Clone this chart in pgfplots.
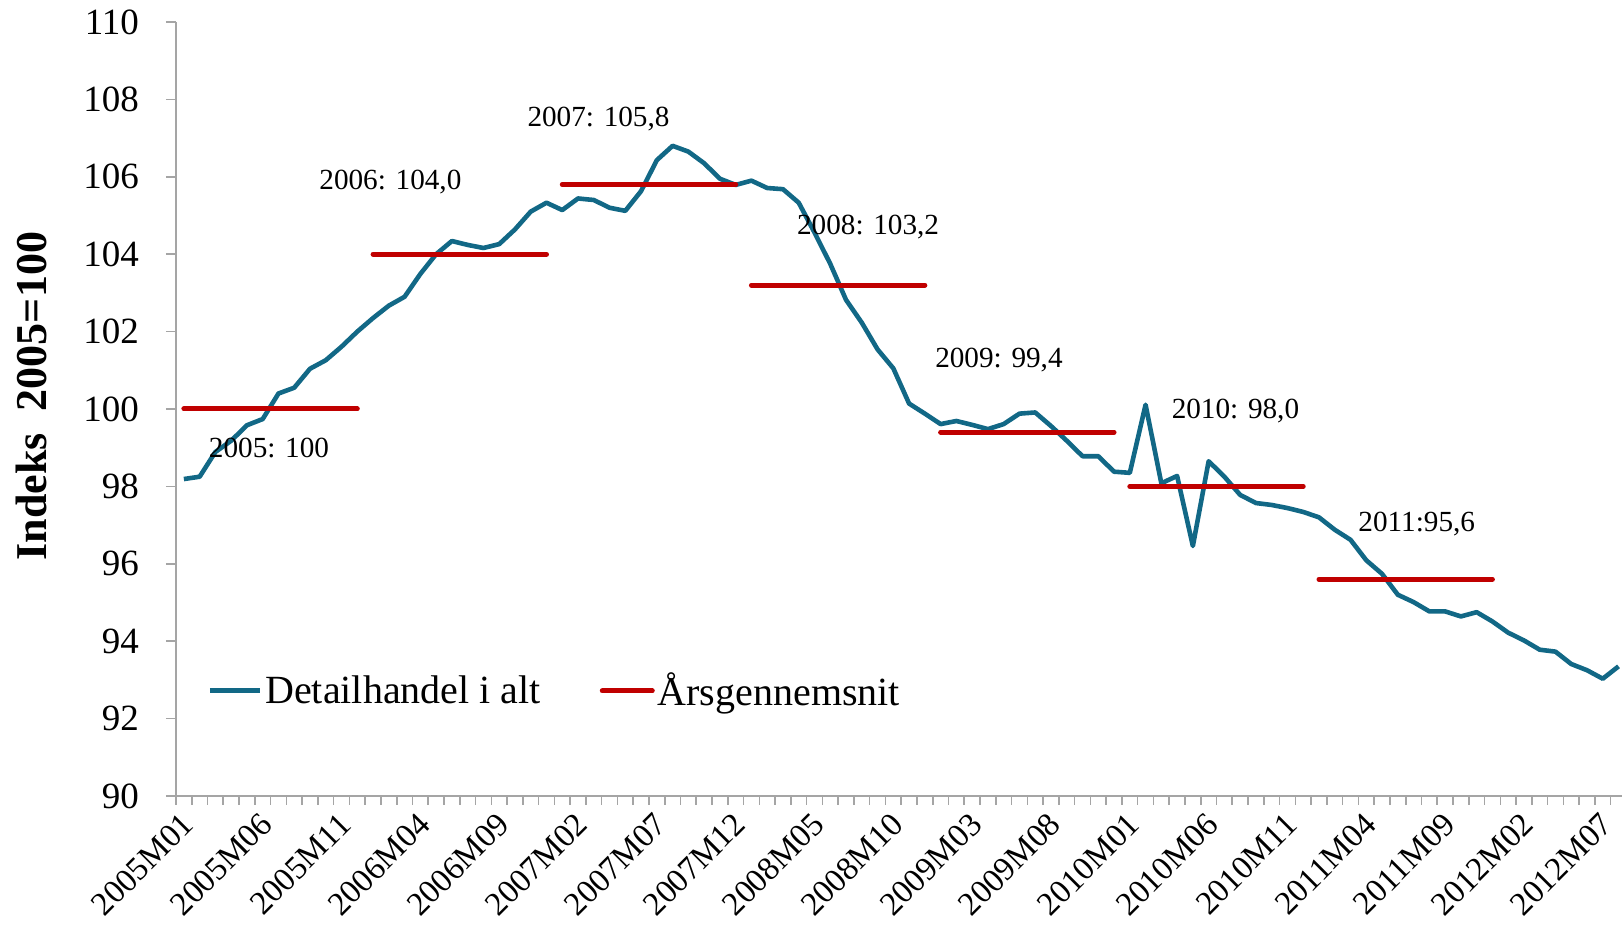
\documentclass[border=0pt]{standalone}
\usepackage{fontspec}
\setmainfont{Liberation Serif}
\usepackage{pgfplots}
\pgfplotsset{compat=1.18}
\definecolor{blueline}{RGB}{18,104,134}
\definecolor{redline}{RGB}{192,0,0}
\definecolor{axisgray}{RGB}{165,165,165}
\begin{document}
\begin{tikzpicture}[x=1pt,y=1pt]
\useasboundingbox (-88,-70) rectangle (723,398);
\begin{axis}[
  at={(0,0)}, anchor=south west,
  scale only axis, width=723pt, height=387pt,
  xmin=-0.5, xmax=91.22, ymin=90, ymax=110,
  axis x line*=bottom, axis y line*=left,
  axis line style={axisgray, line width=0.8pt},
  tick align=outside,
  tick style={axisgray, line width=0.8pt},
  major tick length=5pt, minor tick length=4.5pt,
  ytick={90,92,...,110},
  xtick={0,5,...,90},
  minor xtick={-0.5,0.5,...,91.5},
  every major x tick/.append style={draw opacity=0},
  xticklabels={2005M01,2005M06,2005M11,2006M04,2006M09,2007M02,2007M07,2007M12,2008M05,2008M10,2009M03,2009M08,2010M01,2010M06,2010M11,2011M04,2011M09,2012M02,2012M07},
  /pgf/number format/assume math mode=true,
  yticklabel style={font=\fontsize{18.5}{22}\selectfont, anchor=east, xshift=-10pt},
  xticklabel style={font=\fontsize{16.5}{20}\selectfont, rotate=45, anchor=east, yshift=-6pt, xshift=-2pt, inner sep=1pt},
  ylabel={Indeks\ \ 2005=100},
  every axis y label/.style={at={(axis description cs:0,0.5)}, xshift=-72.5pt, yshift=6.5pt, rotate=90, anchor=center, font=\bfseries\fontsize{22}{26}\selectfont},
  legend style={at={(axis description cs:0.0214,0.1357)}, anchor=west, draw=none, fill=none, inner sep=0pt, legend columns=2, font=\fontsize{20}{24}\selectfont, nodes={inner sep=1.5pt}, /tikz/every even column/.append style={column sep=28pt}},
  legend cell align=left,
  legend image code/.code={\draw[#1, line width=2.5pt] (0pt,0pt) -- (25pt,0pt);},
]
\addplot[blueline, line width=2.3pt, line join=round] table[row sep=\\] {
k v\\
0 98.19\\ 1 98.25\\ 2 98.89\\ 3 99.18\\ 4 99.58\\ 5 99.74\\ 6 100.40\\ 7 100.55\\ 8 101.04\\ 9 101.26\\
10 101.61\\ 11 102.00\\ 12 102.35\\ 13 102.67\\ 14 102.90\\ 15 103.49\\ 16 104.00\\ 17 104.34\\ 18 104.24\\ 19 104.16\\
20 104.26\\ 21 104.64\\ 22 105.10\\ 23 105.33\\ 24 105.14\\ 25 105.44\\ 26 105.40\\ 27 105.20\\ 28 105.12\\ 29 105.63\\
30 106.43\\ 31 106.80\\ 32 106.65\\ 33 106.35\\ 34 105.95\\ 35 105.79\\ 36 105.90\\ 37 105.71\\ 38 105.68\\ 39 105.33\\
40 104.56\\ 41 103.75\\ 42 102.82\\ 43 102.23\\ 44 101.54\\ 45 101.05\\ 46 100.14\\ 47 99.88\\ 48 99.61\\ 49 99.69\\
50 99.59\\ 51 99.48\\ 52 99.61\\ 53 99.88\\ 54 99.91\\ 55 99.56\\ 56 99.18\\ 57 98.78\\ 58 98.78\\ 59 98.38\\
60 98.35\\ 61 100.11\\ 62 98.08\\ 63 98.27\\ 64 96.46\\ 65 98.65\\ 66 98.25\\ 67 97.78\\ 68 97.57\\ 69 97.52\\
70 97.44\\ 71 97.34\\ 72 97.20\\ 73 96.88\\ 74 96.62\\ 75 96.09\\ 76 95.74\\ 77 95.20\\ 78 95.01\\ 79 94.77\\
80 94.77\\ 81 94.64\\ 82 94.75\\ 83 94.51\\ 84 94.22\\ 85 94.02\\ 86 93.78\\ 87 93.73\\ 88 93.41\\ 89 93.25\\
90 93.03\\ 91 93.35\\
};
\addlegendentry{Detailhandel i alt}
\addplot[redline, line width=2.5pt, line cap=round] coordinates {(0,100) (11,100)};
\addlegendentry{Årsgennemsnit}
\addplot[redline, line width=2.5pt, line cap=round, forget plot] coordinates {(12,104.0) (23,104.0)};
\addplot[redline, line width=2.5pt, line cap=round, forget plot] coordinates {(24,105.8) (35,105.8)};
\addplot[redline, line width=2.5pt, line cap=round, forget plot] coordinates {(36,103.2) (47,103.2)};
\addplot[redline, line width=2.5pt, line cap=round, forget plot] coordinates {(48,99.4) (59,99.4)};
\addplot[redline, line width=2.5pt, line cap=round, forget plot] coordinates {(60,98.0) (71,98.0)};
\addplot[redline, line width=2.5pt, line cap=round, forget plot] coordinates {(72,95.6) (83,95.6)};
\begin{scope}[every node/.style={font=\fontsize{14.6}{17}\selectfont}]
\node at (axis cs:5.4,98.99) {2005: 100};
\node at (axis cs:13.1,105.87) {2006: 104,0};
\node at (axis cs:26.3,107.49) {2007: 105,8};
\node at (axis cs:43.4,104.69) {2008: 103,2};
\node at (axis cs:51.7,101.27) {2009: 99,4};
\node at (axis cs:66.7,99.96) {2010: 98,0};
\node at (axis cs:78.2,97.02) {2011:95,6};
\end{scope}
\end{axis}
\end{tikzpicture}
\end{document}
